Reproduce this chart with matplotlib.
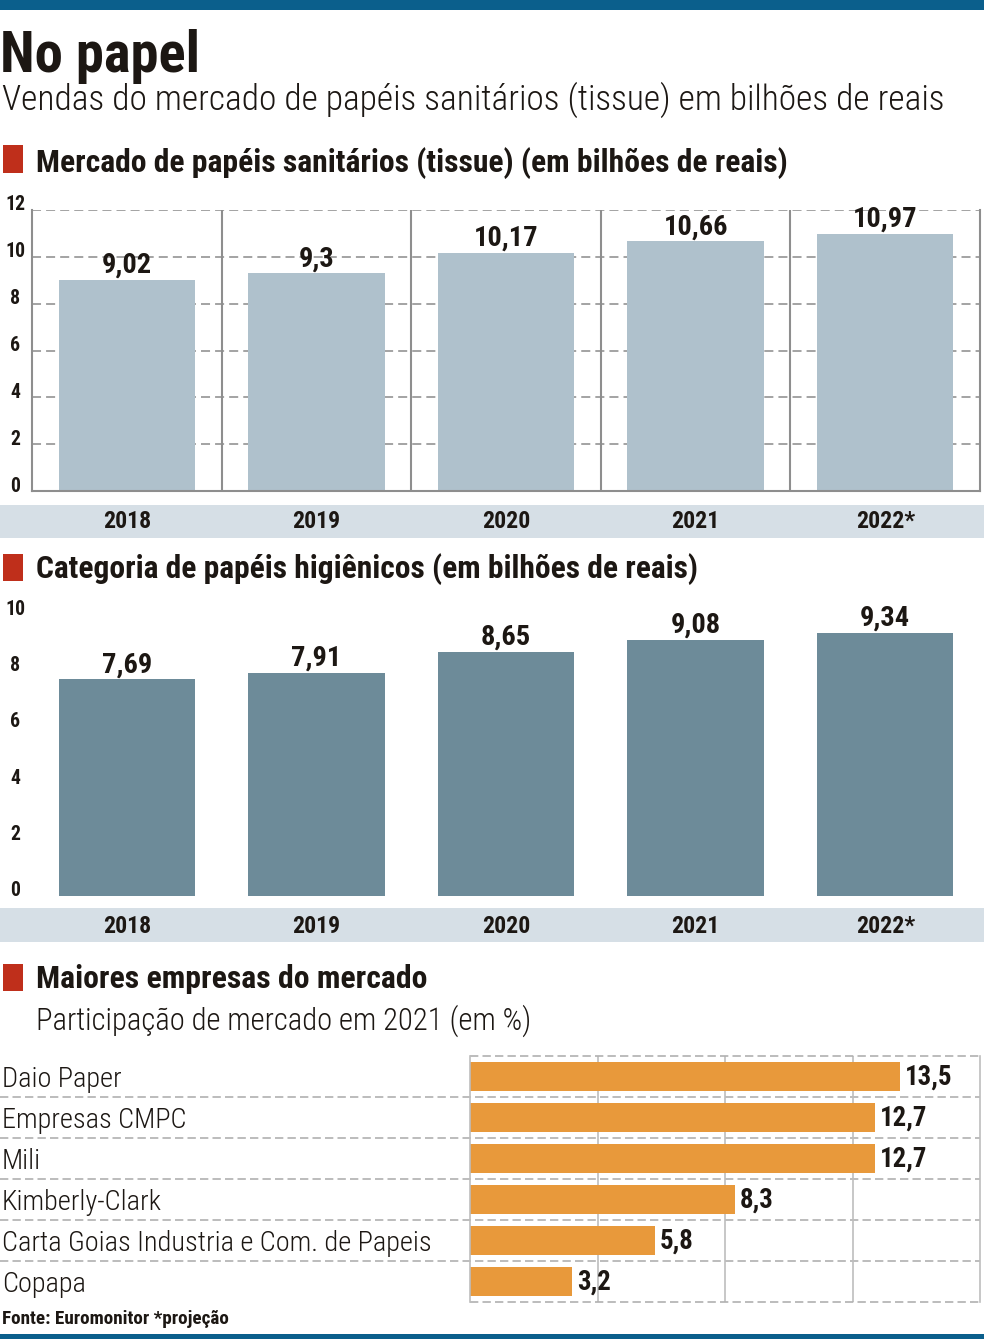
import matplotlib
matplotlib.use("Agg")
import matplotlib.pyplot as plt
import matplotlib.transforms as mtrans
from matplotlib.patches import Rectangle

# ---------------- data ----------------
years = ["2018", "2019", "2020", "2021", "2022*"]
tissue_sales = [9.02, 9.3, 10.17, 10.66, 10.97]
toilet_paper = [7.69, 7.91, 8.65, 9.08, 9.34]
companies = ["Daio Paper", "Empresas CMPC", "Mili", "Kimberly-Clark",
             "Carta Goias Industria e Com. de Papeis", "Copapa"]
shares = [13.5, 12.7, 12.7, 8.3, 5.8, 3.2]
ticks1 = [0, 2, 4, 6, 8, 10, 12]
ticks2 = [0, 2, 4, 6, 8, 10]
ticks3 = [4, 8, 12]

title = "No papel"
subtitle = "Vendas do mercado de papéis sanitários (tissue) em bilhões de reais"
head1 = "Mercado de papéis sanitários (tissue) (em bilhões de reais)"
head2 = "Categoria de papéis higiênicos (em bilhões de reais)"
head3 = "Maiores empresas do mercado"
sub3 = "Participação de mercado em 2021 (em %)"
footer = "Fonte: Euromonitor *projeção"

# ---------------- style ----------------
FONT = ["Roboto Condensed", "Noto Sans Condensed", "Open Sans Condensed",
        "Liberation Sans Narrow", "Lato", "DejaVu Sans"]
plt.rcParams["font.family"] = FONT
plt.rcParams["font.stretch"] = "condensed"
TXT = "#1c1713"
BLUE_TOP = "#0b5f8c"
RED = "#bf2f1b"
BAND = "#d6dfe6"
C1 = "#afc1cc"
C2 = "#6d8b99"
C3 = "#e8993b"
GRID = "#9c9c9c"
SEP = "#8e8e8e"

W, H = 984, 1339
fig = plt.figure(figsize=(W / 100, H / 100), dpi=100)
renderer = fig.canvas.get_renderer()

bg = fig.add_axes([0, 0, 1, 1])
bg.set_xlim(0, W)
bg.set_ylim(H, 0)
bg.axis("off")


def px_axes(x0, y0, x1, y1):
    ax = fig.add_axes([x0 / W, 1 - y1 / H, (x1 - x0) / W, (y1 - y0) / H])
    ax.patch.set_alpha(0)
    return ax


def fit(t, width):
    bb = t.get_window_extent(renderer)
    t.set_fontsize(t.get_fontsize() * width / bb.width)
    return t


def off(tr, dx=0, dy=0):
    return mtrans.offset_copy(tr, fig=fig, x=dx, y=dy, units="dots")


# top / bottom rules
bg.add_patch(Rectangle((0, 0), W, 10, color=BLUE_TOP, lw=0))
bg.add_patch(Rectangle((0, 1334), W, 5, color=BLUE_TOP, lw=0))

# titles
fit(bg.text(0, 72, title, fontsize=38, weight="heavy", color=TXT, va="baseline"), 200)
fit(bg.text(2, 110, subtitle, fontsize=22, weight="light", color=TXT, va="baseline"), 942)

# section headers
for (y0, y1, base, txt, w) in [(145, 173, 172, head1, 751),
                               (554, 581, 578, head2, 659),
                               (964, 991, 988, head3, 390)]:
    bg.add_patch(Rectangle((3, y0), 20, y1 - y0, color=RED, lw=0))
    fit(bg.text(36, base, txt, fontsize=20, weight="bold", color=TXT, va="baseline"), w)
fit(bg.text(36, 1030, sub3, fontsize=20, weight="light", color=TXT, va="baseline"), 496)

# bands
bg.add_patch(Rectangle((0, 505), W, 33, color=BAND, lw=0))
bg.add_patch(Rectangle((0, 908), W, 34, color=BAND, lw=0))

x = list(range(len(years)))

# ---------------- chart 1 ----------------
ax1 = px_axes(32, 210, 980, 491)
ax1.set_xlim(-0.5, len(years) - 0.5)
ax1.set_ylim(0, 12)
for t in ticks1[1:]:
    ax1.axhline(t, color=GRID, lw=1.3, ls=(0, (5, 2.8)), zorder=1)
ax1.bar(x, tissue_sales, width=0.72, color=C1, zorder=2)
for s in [i + 0.5 for i in x[:-1]]:
    ax1.axvline(s, color=SEP, lw=1.5, zorder=3)
ax1.spines["top"].set_visible(False)
for sp in ["left", "bottom", "right"]:
    ax1.spines[sp].set_color(SEP)
    ax1.spines[sp].set_linewidth(1.5)
ax1.set_xticks([])
ax1.set_yticks([])

# ---------------- chart 2 ----------------
ax2 = px_axes(32, 614, 980, 896)
ax2.set_xlim(-0.5, len(years) - 0.5)
ax2.set_ylim(0, 10)
ax2.bar(x, toilet_paper, width=0.72, color=C2, zorder=2)
for sp in ax2.spines.values():
    sp.set_visible(False)
ax2.set_xticks([])
ax2.set_yticks([])

# labels for charts 1 & 2
ref_val = None
ref_year = None
ref_tick = None
tick_texts = []
for ax, vals, ticks, year_base in [(ax1, tissue_sales, ticks1, 528),
                                   (ax2, toilet_paper, ticks2, 933)]:
    for i, v in zip(x, vals):
        t = ax.text(i, v, str(v).replace(".", ","), ha="center", va="baseline",
                    weight="bold", fontsize=18, color=TXT,
                    transform=off(ax.transData, dy=7), zorder=5)
        if ref_val is None:
            ref_val = fit(t, 50).get_fontsize()
        t.set_fontsize(ref_val)
    ytr = mtrans.blended_transform_factory(ax.transData, bg.transData)
    for i, yl in zip(x, years):
        t = bg.text(i, year_base, yl, ha="center", va="baseline", weight="bold",
                    fontsize=16, color=TXT, transform=ytr)
        if ref_year is None:
            ref_year = fit(t, 48).get_fontsize()
        t.set_fontsize(ref_year)
    ttr = mtrans.blended_transform_factory(bg.transData, ax.transData)
    for tv in ticks:
        t = bg.text(15, tv, str(tv), ha="center", va="center", weight="bold",
                    fontsize=11, color=TXT, transform=off(ttr, dy=5))
        tick_texts.append(t)
        if ref_tick is None and tv == 10:
            ref_tick = fit(t, 20).get_fontsize()

for t in tick_texts:
    t.set_fontsize(ref_tick)

# ---------------- chart 3 ----------------
ax3 = px_axes(470, 1056, 980, 1302)
n = len(companies)
yy = list(range(n))
ax3.set_xlim(0, 16)
ax3.set_ylim(n - 0.5, -0.5)
for g in ticks3:
    ax3.axvline(g, color="#bdbdbd", lw=1.2, zorder=1)
ax3.barh(yy, shares, height=0.72, color=C3, zorder=2)
for sp in ["left", "right"]:
    ax3.spines[sp].set_color("#bdbdbd")
    ax3.spines[sp].set_linewidth(1.2)
for sp in ["top", "bottom"]:
    ax3.spines[sp].set_visible(False)
ax3.axhline(-0.5, color="#b0b0b0", lw=1.2, ls=(0, (5, 2.5)), clip_on=False)
ax3.axhline(n - 0.5, color="#b0b0b0", lw=1.2, ls=(0, (5, 2.5)), clip_on=False)
ax3.set_xticks([])
ax3.set_yticks([])

rtr = mtrans.blended_transform_factory(bg.transData, ax3.transData)
for i in yy[:-1]:
    bg.plot([0, 980], [i + 0.5, i + 0.5], color="#b0b0b0", lw=1.2,
            ls=(0, (5, 2.5)), transform=rtr, zorder=1)

clabels = []
for i, c in zip(yy, companies):
    t = bg.text(2, i, c, ha="left", va="center", fontsize=19, weight="light",
                color=TXT, transform=off(rtr, dy=-3))
    clabels.append(t)
ref_c = fit(clabels[4], 430).get_fontsize()
for t in clabels:
    t.set_fontsize(ref_c)

for i, v in zip(yy, shares):
    t = ax3.text(v, i, str(v).replace(".", ","), ha="left", va="center",
                 weight="bold", fontsize=17, color=TXT,
                 transform=off(ax3.transData, dx=5, dy=-1), zorder=5)
    t.set_fontsize(ref_val * 0.95)

fit(bg.text(2, 1324, footer, fontsize=13, weight="bold", color=TXT, va="baseline"), 226)

fig.savefig("out.png", dpi=100)
